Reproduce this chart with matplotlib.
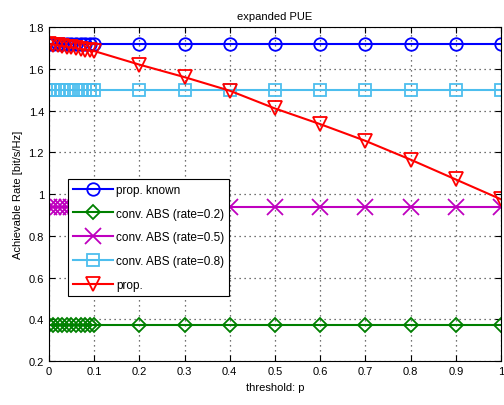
import numpy as np
import matplotlib.pyplot as plt

plt.rcParams['font.family'] = ['Liberation Sans', 'DejaVu Sans']

# threshold values: fine steps up to 0.1, then coarse
p = [0, 0.01, 0.02, 0.03, 0.04, 0.05, 0.06, 0.07, 0.08, 0.09, 0.1,
     0.2, 0.3, 0.4, 0.5, 0.6, 0.7, 0.8, 0.9, 1.0]

prop_known = [1.72] * 20
abs_02 = [0.375] * 20
abs_05 = [0.94] * 20
abs_08 = [1.50] * 20
prop = [1.72, 1.716, 1.713, 1.709, 1.706, 1.702, 1.699, 1.695, 1.692, 1.688, 1.685,
        1.62, 1.56, 1.495, 1.41, 1.335, 1.255, 1.165, 1.07, 0.975]

fig = plt.figure(figsize=(5.04, 4.06), dpi=100)
ax = fig.add_axes([0.097, 0.108, 0.897, 0.823])

ms = 9
ax.plot(p, prop_known, color='#0000ff', marker='o', mfc='none', ms=ms, lw=1.5, mew=1.3, label='prop. known')
ax.plot(p, abs_02, color='#008000', marker='D', mfc='none', ms=ms - 2, lw=1.5, mew=1.3, label='conv. ABS (rate=0.2)')
ax.plot(p, abs_05, color='#bf00bf', marker='x', mfc='none', ms=ms + 2, lw=1.5, mew=1.3, label='conv. ABS (rate=0.5)')
ax.plot(p, abs_08, color='#4dbeee', marker='s', mfc='none', ms=ms - 1, lw=1.5, mew=1.3, label='conv. ABS (rate=0.8)')
ax.plot(p, prop, color='#ff0000', marker='v', mfc='none', ms=ms + 1, lw=1.5, mew=1.3, label='prop.')

ax.set_xlim(0, 1)
ax.set_ylim(0.2, 1.8)
ax.set_xticks(np.arange(0, 1.01, 0.1))
ax.set_xticklabels(['0', '0.1', '0.2', '0.3', '0.4', '0.5', '0.6', '0.7', '0.8', '0.9', '1'])
ax.set_yticks(np.arange(0.2, 1.81, 0.2))
ax.set_yticklabels(['0.2', '0.4', '0.6', '0.8', '1', '1.2', '1.4', '1.6', '1.8'])
ax.tick_params(direction='in', labelsize=8, top=True, right=True, length=4)
ax.grid(True, linestyle=(0, (1, 3)), color='#444444', linewidth=0.9)
ax.set_xlabel('threshold: p', fontsize=8)
ax.set_ylabel('Achievable Rate [bit/s/Hz]', fontsize=8)
ax.set_title('expanded PUE', fontsize=8)

leg = ax.legend(loc='upper left', bbox_to_anchor=(0.042, 0.545), fontsize=8.5,
                fancybox=False, framealpha=1, edgecolor='black',
                borderpad=0.4, labelspacing=1.0, handlelength=3.4, handletextpad=0.3,
                borderaxespad=0)
leg.get_frame().set_linewidth(0.8)

fig.savefig('out.png', dpi=100)
